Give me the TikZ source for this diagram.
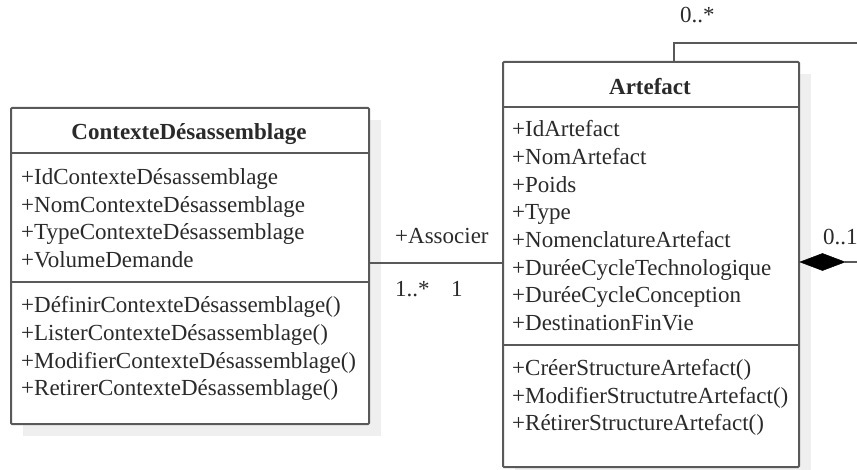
\documentclass[tikz,border=0pt]{standalone}
\usepackage{fontspec}
\setmainfont{Liberation Serif}
\usetikzlibrary{arrows.meta}
\definecolor{linec}{HTML}{595959}
\definecolor{textc}{HTML}{2A2A2A}
\definecolor{shadc}{HTML}{EFEFEF}
\begin{document}
\begin{tikzpicture}[x=1pt,y=-1pt,
  cls/.style={draw=linec, line width=2pt, fill=white, rounded corners=1pt, inner sep=0pt, anchor=north west},
  shd/.style={fill=shadc, draw=none, inner sep=0pt, anchor=north west},
  sep/.style={draw=linec, line width=2pt},
  txt/.style={anchor=base west, inner sep=0pt, text=textc, font=\fontsize{23}{27}\selectfont},
  ttl/.style={anchor=base, inner sep=0pt, text=textc, font=\fontsize{23}{27}\selectfont\bfseries},
  conn/.style={draw=linec, line width=2pt},
  diam/.style={fill=black, draw=black, line width=0.5pt, line join=miter}]
\useasboundingbox (0,0) rectangle (857,470);
% shadows
\node[shd, minimum width=358pt, minimum height=316pt] (ctxs) at (23,120) {};
\node[shd, minimum width=296pt, minimum height=405pt] (arts) at (515,74) {};
% class boxes
\node[cls, minimum width=358pt, minimum height=316pt] (ctx) at (10,107) {};
\node[cls, minimum width=296pt, minimum height=405pt] (art) at (502,61) {};
% separators
\coordinate (c1l) at (10,153); \coordinate (c1r) at (368,153);
\coordinate (c2l) at (10,282); \coordinate (c2r) at (368,282);
\draw[sep] (c1l) -- (c1r);
\draw[sep] (c2l) -- (c2r);
\coordinate (a1l) at (502,107); \coordinate (a1r) at (798,107);
\coordinate (a2l) at (502,345); \coordinate (a2r) at (798,345);
\draw[sep] (a1l) -- (a1r);
\draw[sep] (a2l) -- (a2r);
% ContexteDesassemblage text
\node[ttl] (ct) at (189,140) {ContexteDésassemblage};
\node[txt] (ca1) at (21,185) {+IdContexteDésassemblage};
\node[txt] (ca2) at (21,212.5) {+NomContexteDésassemblage};
\node[txt] (ca3) at (21,240) {+TypeContexteDésassemblage};
\node[txt] (ca4) at (21,267.5) {+VolumeDemande};
\node[txt] (cm1) at (21,313) {+DéfinirContexteDésassemblage()};
\node[txt] (cm2) at (21,340.5) {+ListerContexteDésassemblage()};
\node[txt] (cm3) at (21,368) {+ModifierContexteDésassemblage()};
\node[txt] (cm4) at (21,395.5) {+RetirerContexteDésassemblage()};
% Artefact text
\node[ttl] (at) at (650,95) {Artefact};
\node[txt] (aa1) at (512,136.7) {+IdArtefact};
\node[txt] (aa2) at (512,164.4) {+NomArtefact};
\node[txt] (aa3) at (512,192.1) {+Poids};
\node[txt] (aa4) at (512,219.8) {+Type};
\node[txt] (aa5) at (512,247.5) {+NomenclatureArtefact};
\node[txt] (aa6) at (512,275.2) {+DuréeCycleTechnologique};
\node[txt] (aa7) at (512,302.9) {+DuréeCycleConception};
\node[txt] (aa8) at (512,330.6) {+DestinationFinVie};
\node[txt] (am1) at (512,375.5) {+CréerStructureArtefact()};
\node[txt] (am2) at (512,403.2) {+ModifierStructutreArtefact()};
\node[txt] (am3) at (512,430.9) {+RétirerStructureArtefact()};
% association
\coordinate (asc) at (368,263);
\draw[conn] (asc) -- (asc -| art.west);
\node[txt] (lassoc) at (395,243.3) {+Associer};
\node[txt] (lm1) at (395,297) {1..*};
\node[txt] (lm2) at (451,297) {1};
% self association
\coordinate (selfend) at (860,43);
\draw[conn] ([xshift=23pt]art.north) |- (selfend);
\node[txt] (lm3) at (680,23) {0..*};
% composition
\coordinate (compend) at (860,262);
\coordinate (dtip) at (art.east |- compend);
\coordinate (dend) at ([xshift=45pt]dtip);
\draw[conn] (dend) -- (compend);
\fill[diam] (dtip) -- ++(22.5,-8.5) -- (dend) -- ++(-22.5,8.5) -- cycle;
\node[txt] (lm4) at (823,245) {0..1};
\end{tikzpicture}
\end{document}
